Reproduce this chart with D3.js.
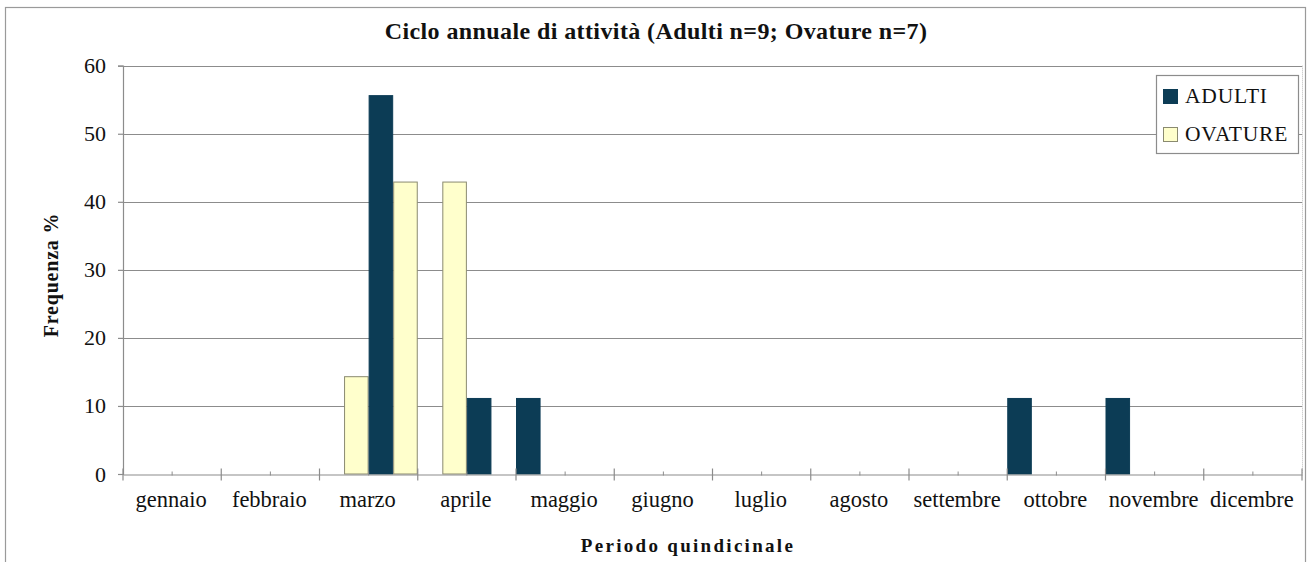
<!DOCTYPE html>
<html>
<head>
<meta charset="utf-8">
<script src="https://cdn.jsdelivr.net/npm/d3@7"></script>
<style>
  html, body { margin: 0; padding: 0; background: #fff; }
</style>
</head>
<body>
<svg id="chart" width="1313" height="562"></svg>
<script>
// Months shown on the category axis (each month split into two fortnights)
const months = ["gennaio", "febbraio", "marzo", "aprile", "maggio", "giugno",
                "luglio", "agosto", "settembre", "ottobre", "novembre", "dicembre"];
// Fortnight categories: "<mese> I" and "<mese> II"
const periods = months.flatMap(m => [m + " I", m + " II"]);

// Percent frequency per fortnight
const adulti  = [0, 0, 0, 0, 0, 55.6, 0, 11.1, 11.1, 0, 0, 0,
                 0, 0, 0, 0, 0, 0, 11.1, 0, 11.1, 0, 0, 0];
const ovature = [0, 0, 0, 0, 14.3, 42.9, 42.9, 0, 0, 0, 0, 0,
                 0, 0, 0, 0, 0, 0, 0, 0, 0, 0, 0, 0];

const seriesNames = ["ADULTI", "OVATURE"];
const seriesColors = { ADULTI: "#0c3c55", OVATURE: "#ffffcc" };
const seriesStroke = { ADULTI: "#0c3c55", OVATURE: "#8a8a70" };
const yTicks = [0, 10, 20, 30, 40, 50, 60];

const titleText = "Ciclo annuale di attività (Adulti n=9; Ovature n=7)";
const yTitle = "Frequenza %";
const xTitle = "Periodo quindicinale";

const FONT = "'Liberation Serif', 'DejaVu Serif', serif";

const svg = d3.select("#chart").attr("font-family", FONT);
const plot = { left: 123, right: 1302, top: 65.7, bottom: 474 };

// outer chart frame
svg.append("rect")
  .attr("x", 5.5).attr("y", 7.5).attr("width", 1300).attr("height", 560)
  .attr("fill", "#fff").attr("stroke", "#9a9a9a").attr("stroke-width", 1.2);

// plot area right edge (dotted)
svg.append("line")
  .attr("x1", plot.right + 0.5).attr("x2", plot.right + 0.5)
  .attr("y1", plot.top).attr("y2", plot.bottom)
  .attr("stroke", "#bbb").attr("stroke-dasharray", "1,1");

const x = d3.scaleBand().domain(periods).range([plot.left, plot.right]).padding(0);
const xMonth = d3.scaleBand().domain(months).range([plot.left, plot.right]).padding(0);
const xSub = d3.scaleBand().domain(seriesNames).range([0, x.bandwidth()]).padding(0);
const y = d3.scaleLinear().domain([0, 60]).range([plot.bottom, plot.top]);

// horizontal gridlines
svg.append("g")
  .selectAll("line")
  .data(yTicks.filter(d => d > 0))
  .join("line")
  .attr("x1", plot.left).attr("x2", plot.right)
  .attr("y1", d => Math.round(y(d)) + 0.5).attr("y2", d => Math.round(y(d)) + 0.5)
  .attr("stroke", "#8c8c8c").attr("stroke-width", 1.2);

// y axis
const yAxis = d3.axisLeft(y).tickValues(yTicks).tickSize(5).tickPadding(12).tickFormat(d3.format("d"));
const gy = svg.append("g").attr("transform", `translate(${plot.left},0)`).call(yAxis);
gy.attr("font-family", FONT);
gy.select(".domain").attr("stroke", "#8c8c8c").attr("stroke-width", 1.2);
gy.selectAll(".tick line").attr("stroke", "#8c8c8c").attr("stroke-width", 1.2);
gy.selectAll(".tick text").attr("font-size", 22).attr("fill", "#111");

// bars
const rows = periods.map((p, i) => ({ period: p, ADULTI: adulti[i], OVATURE: ovature[i] }));
const groups = svg.append("g").selectAll("g")
  .data(rows)
  .join("g")
  .attr("transform", d => `translate(${x(d.period)},0)`);
groups.selectAll("rect")
  .data(d => seriesNames.map(s => ({ s, v: d[s] })).filter(e => e.v > 0))
  .join("rect")
  .attr("x", e => xSub(e.s) + 0.5)
  .attr("width", xSub.bandwidth() - 1)
  .attr("y", e => y(e.v))
  .attr("height", e => y(0) - y(e.v))
  .attr("fill", e => seriesColors[e.s])
  .attr("stroke", e => seriesStroke[e.s])
  .attr("stroke-width", 1);

// x axis: line with month ticks (major) and mid-month ticks (minor)
const xAxis = d3.axisBottom(xMonth).tickSize(0).tickPadding(17);
const gx = svg.append("g").attr("transform", `translate(0,${Math.round(y(0)) + 0.5})`).call(xAxis);
gx.attr("font-family", FONT);
gx.select(".domain").attr("stroke", "#8c8c8c").attr("stroke-width", 1.2);
gx.selectAll(".tick text").attr("font-size", 22.5).attr("fill", "#111")
  .attr("transform", "translate(-1,0)");

const boundaries = months.map(m => xMonth(m)).concat([plot.right]);
gx.selectAll(".major")
  .data(boundaries)
  .join("line")
  .attr("class", "major")
  .attr("x1", d => d).attr("x2", d => d)
  .attr("y1", -6).attr("y2", 6)
  .attr("stroke", "#8c8c8c").attr("stroke-width", 1.2);
gx.selectAll(".minor")
  .data(months.map(m => xMonth(m) + xMonth.bandwidth() / 2))
  .join("line")
  .attr("class", "minor")
  .attr("x1", d => d).attr("x2", d => d)
  .attr("y1", -3).attr("y2", 1)
  .attr("stroke", "#8c8c8c").attr("stroke-width", 1);

// titles
svg.append("text")
  .attr("x", 656).attr("y", 39)
  .attr("text-anchor", "middle")
  .attr("font-size", 24).attr("font-weight", "bold").attr("fill", "#111")
  .attr("letter-spacing", 0.4)
  .text(titleText);

svg.append("text")
  .attr("transform", "translate(58,275) rotate(-90)")
  .attr("text-anchor", "middle")
  .attr("font-size", 20).attr("font-weight", "bold").attr("fill", "#111")
  .attr("letter-spacing", 0.8)
  .text(yTitle);

svg.append("text")
  .attr("x", 688).attr("y", 552)
  .attr("text-anchor", "middle")
  .attr("font-size", 19).attr("font-weight", "bold").attr("fill", "#111")
  .attr("letter-spacing", 2.3)
  .text(xTitle);

// legend
const legend = svg.append("g").attr("transform", "translate(1156,75)");
legend.append("rect")
  .attr("x", 0.5).attr("y", 0.5).attr("width", 142).attr("height", 78)
  .attr("fill", "#fff").attr("stroke", "#8c8c8c").attr("stroke-width", 1.2);
const items = legend.selectAll(".item")
  .data(seriesNames)
  .join("g")
  .attr("class", "item")
  .attr("transform", (d, i) => `translate(7,${14 + i * 38})`);
items.append("rect")
  .attr("x", 0.5).attr("y", 0.5).attr("width", 14).attr("height", 14)
  .attr("fill", d => seriesColors[d])
  .attr("stroke", d => seriesStroke[d]);
items.append("text")
  .attr("x", 22).attr("y", 14)
  .attr("font-size", 21.5).attr("fill", "#111")
  .attr("letter-spacing", 0.8)
  .text(d => d);
</script>
</body>
</html>
